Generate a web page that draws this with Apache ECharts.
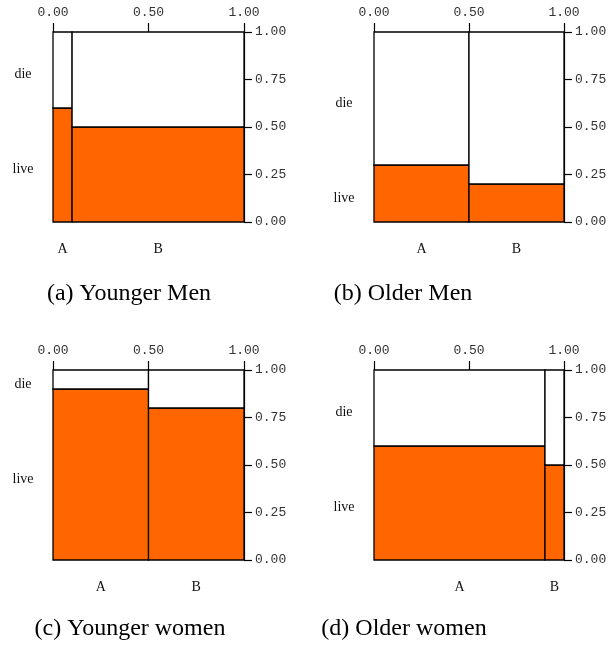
<!DOCTYPE html>
<html>
<head>
<meta charset="utf-8">
<script src="https://cdn.jsdelivr.net/npm/echarts@6/dist/echarts.min.js"></script>
<style>
html,body{margin:0;padding:0;background:#fff;}
#chart{width:610px;height:652px;}
</style>
</head>
<body>
<div id="chart"></div>
<script>
// ---- data ----
const groups = ['A', 'B'];
const outcomes = ['live', 'die'];
const captions = ['(a) Younger Men', '(b) Older Men', '(c) Younger women', '(d) Older women'];
const xTicks = [0, 0.5, 1];
const yTicks = [0, 0.25, 0.5, 0.75, 1];

// column widths (share of each group) and proportion that live
const youngerMenShare = [0.10, 0.90];
const youngerMenLive  = [0.60, 0.50];
const olderMenShare   = [0.50, 0.50];
const olderMenLive    = [0.30, 0.20];
const youngerWomenShare = [0.50, 0.50];
const youngerWomenLive  = [0.90, 0.80];
const olderWomenShare   = [0.90, 0.10];
const olderWomenLive    = [0.60, 0.50];

const panels = [
  {share: youngerMenShare, live: youngerMenLive},
  {share: olderMenShare, live: olderMenLive},
  {share: youngerWomenShare, live: youngerWomenLive},
  {share: olderWomenShare, live: olderWomenLive}
];

// ---- layout ----
const gridPos = [
  {left: 53, top: 32, width: 191, height: 190},
  {left: 374, top: 32, width: 190, height: 190},
  {left: 53, top: 370, width: 191, height: 190},
  {left: 374, top: 370, width: 190, height: 190}
];
const captionPos = [[129, 293], [403, 293], [130, 628], [404, 628]];

const ORANGE = '#FF6600';
const monoFont = 'Liberation Mono';
const serifFont = 'Liberation Serif';

const grids = [], xAxes = [], yAxes = [], series = [], graphics = [];

panels.forEach((p, k) => {
  grids.push(Object.assign({containLabel: false}, gridPos[k]));
  xAxes.push({
    type: 'value', gridIndex: k, position: 'top', min: 0, max: 1, interval: 0.5,
    axisLine: {show: false, onZero: false},
    axisTick: {show: true, length: 9, lineStyle: {color: '#000', width: 1.2}},
    splitLine: {show: false},
    axisLabel: {margin: 13, fontFamily: monoFont, fontSize: 13, color: '#333',
      formatter: v => v.toFixed(2)}
  });
  yAxes.push({
    type: 'value', gridIndex: k, position: 'right', min: 0, max: 1, interval: 0.25,
    axisLine: {show: true, onZero: false, lineStyle: {color: '#000', width: 1.2}},
    axisTick: {show: true, length: 8, lineStyle: {color: '#000', width: 1.2}},
    splitLine: {show: false},
    axisLabel: {margin: 11, fontFamily: monoFont, fontSize: 13, color: '#333',
      formatter: v => v.toFixed(2)}
  });

  // mosaic tiles
  const tiles = [];
  let acc = 0;
  p.share.forEach((w, i) => {
    tiles.push([acc, acc + w, p.live[i], i]);
    acc += w;
  });
  series.push({
    type: 'custom', xAxisIndex: k, yAxisIndex: k, clip: false, silent: true,
    data: tiles,
    renderItem: function (params, api) {
      const x0 = api.value(0), x1 = api.value(1), lv = api.value(2);
      const a = api.coord([x0, 0]);
      const b = api.coord([x1, lv]);
      const c = api.coord([x1, 1]);
      const st = {stroke: '#000', lineWidth: 1.3};
      return {
        type: 'group',
        children: [
          {type: 'rect', shape: {x: a[0], y: b[1], width: b[0] - a[0], height: a[1] - b[1]},
            style: Object.assign({fill: ORANGE}, st)},
          {type: 'rect', shape: {x: a[0], y: c[1], width: c[0] - a[0], height: b[1] - c[1]},
            style: Object.assign({fill: '#fff'}, st)}
        ]
      };
    },
    z: 1
  });

  // category labels
  const n = p.live.length;
  const liveMid = p.live.reduce((s, v) => s + v / 2, 0) / n;
  const dieMid = p.live.reduce((s, v) => s + (1 + v) / 2, 0) / n;
  const labels = [
    [0, liveMid, outcomes[0], 0],
    [0, dieMid, outcomes[1], 0]
  ];
  tiles.forEach((t, i) => labels.push([(t[0] + t[1]) / 2, 0, groups[i], 1]));
  series.push({
    type: 'custom', xAxisIndex: k, yAxisIndex: k, clip: false, silent: true,
    data: labels,
    renderItem: function (params, api) {
      const pt = api.coord([api.value(0), api.value(1)]);
      const kind = api.value(3);
      const txt = labels[params.dataIndex][2];
      return {
        type: 'text',
        x: kind === 0 ? pt[0] - 30 : pt[0],
        y: kind === 0 ? pt[1] : pt[1] + 27,
        style: {text: txt, fill: '#111', font: '14px "' + serifFont + '"',
          textAlign: 'center', textVerticalAlign: 'middle'}
      };
    },
    z: 2
  });

  graphics.push({
    type: 'text', x: captionPos[k][0], y: captionPos[k][1] + 1,
    style: {text: captions[k], fill: '#000', font: '24px "' + serifFont + '"',
      textAlign: 'center', textVerticalAlign: 'middle'}
  });
});

const chart = echarts.init(document.getElementById('chart'), null, {renderer: 'canvas'});
chart.setOption({
  animation: false,
  backgroundColor: '#fff',
  grid: grids,
  xAxis: xAxes,
  yAxis: yAxes,
  series: series,
  graphic: graphics
});
</script>
</body>
</html>
